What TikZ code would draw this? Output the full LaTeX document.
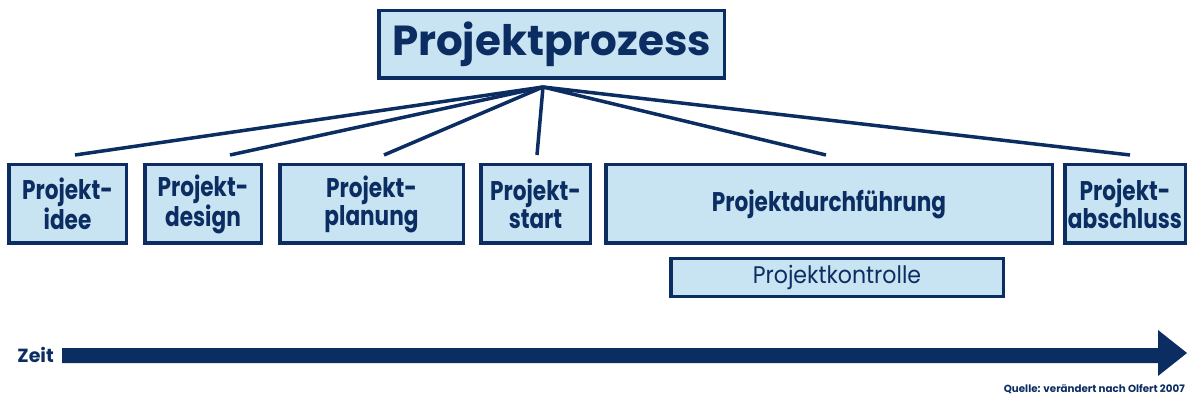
\documentclass[tikz,border=0pt]{standalone}
\usepackage{fontspec}
\setmainfont{Poppins}
\newfontfamily\boxfont[FakeStretch=0.8]{Poppins}
\newfontfamily\ctrlfont[FakeStretch=0.92]{Poppins}
\definecolor{navy}{HTML}{0B2D62}
\definecolor{lblue}{HTML}{C8E4F2}
\begin{document}
\begin{tikzpicture}[x=1pt,y=-1pt,
  box/.style={draw=navy,fill=lblue,line width=3.5pt,text=navy,inner sep=0pt,minimum height=78.5pt,align=center,font=\boxfont\fontsize{27}{28}\selectfont\bfseries},
  link/.style={draw=navy,line width=3.5pt}]
\useasboundingbox (0,0) rectangle (1189,398);
\node[box,minimum width=345.5pt,minimum height=67.5pt,font=\fontsize{42}{44}\selectfont\bfseries] (title) at (551.5,44.5) {Projektprozess};
\node[box,minimum width=117.5pt] (b1) at (67.5,204) {Projekt-\\idee};
\node[box,minimum width=116.5pt] (b2) at (203,204) {Projekt-\\design};
\node[box,minimum width=183.5pt] (b3) at (371.5,204) {Projekt-\\planung};
\node[box,minimum width=109.5pt] (b4) at (535.5,204) {Projekt-\\start};
\node[box,minimum width=446.5pt] (b5) at (829,204) {Projektdurchführung};
\node[box,minimum width=120.5pt] (b6) at (1125,204) {Projekt-\\abschluss};
\node[box,minimum width=332.5pt,minimum height=37.5pt,font=\ctrlfont\fontsize{24}{26}\selectfont] (b7) at (837,277.5) {Projektkontrolle};
\coordinate (hub) at (543,87);
\coordinate (e1) at (75,155);
\coordinate (e2) at (230,155);
\coordinate (e3) at (384,155);
\coordinate (e4) at (537,155);
\coordinate (e5) at (826,155);
\coordinate (e6) at (1130,155);
\foreach \e in {e1,e2,e3,e4,e5,e6} \draw[link] (hub) -- (\e);
\fill[navy] (62,348) -- (1158,348) -- (1158,330) -- (1187,353) -- (1158,376) -- (1158,363) -- (62,363) -- cycle;
\node[anchor=base east,text=navy,font=\fontsize{19}{20}\selectfont\bfseries,inner sep=0pt] (zeit) at (54,362) {Zeit};
\node[anchor=base east,text=navy,font=\fontsize{10.3}{11}\selectfont\bfseries,inner sep=0pt] (src) at (1185,392) {Quelle: verändert nach Olfert 2007};
\end{tikzpicture}
\end{document}
